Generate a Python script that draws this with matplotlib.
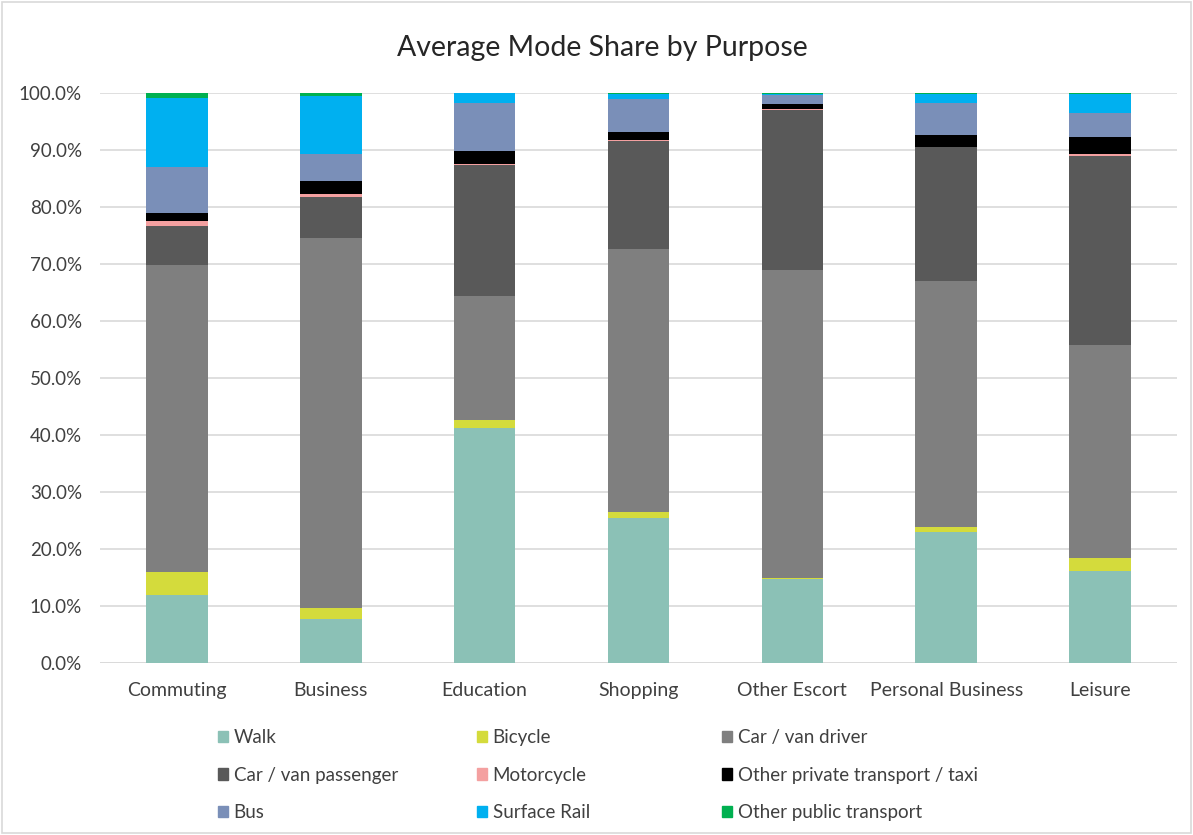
import numpy as np
import matplotlib.pyplot as plt
from matplotlib.patches import Patch, Rectangle

plt.rcParams['font.family'] = ['Lato', 'DejaVu Sans']

purposes = ['Commuting', 'Business', 'Education', 'Shopping', 'Other Escort',
            'Personal Business', 'Leisure']
modes = ['Walk', 'Bicycle', 'Car / van driver', 'Car / van passenger', 'Motorcycle',
         'Other private transport / taxi', 'Bus', 'Surface Rail', 'Other public transport']

# shares in % per purpose
walk = [12.0, 7.8, 41.2, 25.4, 14.7, 23.0, 16.2]
bicycle = [3.9, 1.8, 1.4, 1.1, 0.3, 0.9, 2.2]
car_driver = [53.9, 64.9, 21.7, 46.1, 53.9, 43.2, 37.4]
car_passenger = [6.9, 7.3, 23.1, 19.0, 28.2, 23.4, 33.2]
motorcycle = [0.8, 0.5, 0.1, 0.1, 0.1, 0.1, 0.3]
other_private = [1.4, 2.3, 2.4, 1.4, 0.9, 2.1, 2.9]
bus = [8.1, 4.7, 8.3, 5.8, 1.5, 5.5, 4.3]
surface_rail = [12.2, 10.2, 1.8, 1.0, 0.2, 1.7, 3.3]
other_public = [0.8, 0.5, 0.0, 0.1, 0.2, 0.1, 0.2]

series = [walk, bicycle, car_driver, car_passenger, motorcycle, other_private,
          bus, surface_rail, other_public]
colors = ['#8BC1B6', '#D4DB3C', '#7F7F7F', '#595959', '#F4A0A0', '#000000',
          '#7A8FB8', '#00B0F0', '#00B050']

fig = plt.figure(figsize=(11.93, 8.35), dpi=100)
ax = fig.add_axes([100 / 1193, (835 - 663) / 835, 1077 / 1193, 570 / 835])

x = np.arange(len(purposes))
bottom = np.zeros(len(purposes))
for vals, col in zip(series, colors):
    vals = np.array(vals)
    ax.bar(x, vals, 0.4, bottom=bottom, color=col, zorder=3)
    bottom += vals

ax.set_xlim(-0.5, len(purposes) - 0.5)
ax.set_ylim(0, 100)
ax.set_yticks(np.arange(0, 101, 10))
ax.set_yticklabels(['%.1f%%' % v for v in np.arange(0, 101, 10)], fontsize=13.5, color='#404040')
ax.set_xticks(x)
ax.set_xticklabels(purposes, fontsize=14, color='#404040')
ax.tick_params(axis='y', length=0, pad=13)
ax.tick_params(axis='x', length=0, pad=14)
ax.grid(axis='y', color='#D9D9D9', linewidth=1.2, zorder=0)
for s in ax.spines.values():
    s.set_visible(False)
ax.axhline(0, color='#D9D9D9', linewidth=1.2, zorder=2)

fig.text(0.505, 1 - 48 / 835, 'Average Mode Share by Purpose', ha='center', va='center',
         fontsize=20.5, color='#262626')

handles = [Patch(color=c) for c in colors]
col_x = [218, 477, 722]
for c in range(3):
    idx = [c, c + 3, c + 6]
    fig.legend([handles[i] for i in idx], [modes[i] for i in idx],
               loc='upper left', bbox_to_anchor=(col_x[c] / 1193, 1 - 729 / 835),
               frameon=False, fontsize=13.5, handlelength=0.53, handleheight=0.53,
               handletextpad=0.3, labelspacing=1.1, borderaxespad=0, borderpad=0,
               labelcolor='#404040')

fig.patches.append(Rectangle((0.002, 0.002), 0.996, 0.996, transform=fig.transFigure,
                             fill=False, edgecolor='#D9D9D9', linewidth=1.2))

fig.savefig('out.png', dpi=100)
